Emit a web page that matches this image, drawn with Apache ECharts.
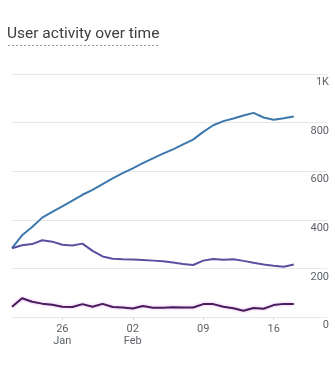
<!DOCTYPE html>
<html>
<head>
<meta charset="utf-8">
<script src="https://cdn.jsdelivr.net/npm/echarts@6/dist/echarts.min.js"></script>
<style>
  html, body { margin: 0; padding: 0; background: #fff; }
  #chart { width: 335px; height: 366px; }
</style>
</head>
<body>
<div id="chart"></div>
<script>
// daily points, 21 Jan .. 18 Feb
const days = [
  '21 Jan', '22 Jan', '23 Jan', '24 Jan', '25 Jan', '26 Jan', '27 Jan', '28 Jan', '29 Jan', '30 Jan', '31 Jan',
  '01 Feb', '02 Feb', '03 Feb', '04 Feb', '05 Feb', '06 Feb', '07 Feb', '08 Feb', '09 Feb', '10 Feb',
  '11 Feb', '12 Feb', '13 Feb', '14 Feb', '15 Feb', '16 Feb', '17 Feb', '18 Feb'
]
const users30d = [283, 336, 370, 409, 433, 455, 479, 503, 523, 547, 570, 592, 612, 633, 653,
  672, 690, 710, 730, 762, 789, 806, 817, 829, 840, 821, 812, 818, 825]
const users7d = [283, 295, 300, 316, 310, 297, 294, 302, 272, 249, 240, 238, 237, 235, 232,
  229, 224, 218, 214, 232, 239, 236, 238, 231, 223, 216, 211, 207, 216]
const users1d = [42, 77, 63, 55, 50, 42, 41, 53, 42, 54, 41, 39, 35, 45, 38,
  38, 40, 39, 39, 53, 53, 42, 36, 26, 37, 34, 49, 54, 54]

const tickIdx = [5, 12, 19, 26]
const tickLabels = ['26\nJan', '02\nFeb', '09', '16']
const yTicks = { 0: '0', 200: '200', 400: '400', 600: '600', 800: '800', 1000: '1K' }

const chart = echarts.init(document.getElementById('chart'))

const toPairs = (arr) => arr.map((v, i) => [i, v])

const lineSeries = (name, values, color, glow) => ({
  name: name,
  type: 'line',
  data: toPairs(values),
  showSymbol: false,
  smooth: false,
  lineStyle: {
    width: 2,
    color: color,
    shadowColor: glow || 'transparent',
    shadowBlur: glow ? 3 : 0
  },
  emphasis: { disabled: true }
})

chart.setOption({
  animation: false,
  title: {
    text: 'User activity over time',
    left: 7,
    top: 26,
    padding: 0,
    textStyle: {
      fontFamily: 'Roboto',
      fontSize: 15.5,
      fontWeight: 'normal',
      color: '#3c4043'
    }
  },
  graphic: [{
    type: 'line',
    shape: { x1: 8, y1: 45.5, x2: 160, y2: 45.5 },
    style: { stroke: '#9aa0a6', lineWidth: 1, lineDash: [2, 2] }
  }],
  grid: {
    left: 12,
    right: 8,
    top: 74,
    bottom: 49
  },
  xAxis: {
    type: 'value',
    min: 0,
    max: 31.3,
    axisLine: { show: false },
    splitLine: { show: false },
    axisTick: {
      show: true,
      customValues: tickIdx,
      length: 3,
      lineStyle: { color: '#dadce0' }
    },
    axisLabel: {
      customValues: tickIdx,
      formatter: (v) => tickLabels[tickIdx.indexOf(v)] || '',
      fontFamily: 'Roboto',
      fontSize: 11,
      lineHeight: 12,
      color: '#5f6368',
      margin: 6
    }
  },
  yAxis: {
    type: 'value',
    position: 'right',
    min: 0,
    max: 1000,
    interval: 200,
    axisLine: { show: false },
    axisTick: { show: false },
    splitLine: { lineStyle: { color: '#e6e7e9', width: 1 } },
    axisLabel: {
      formatter: (v) => yTicks[v],
      align: 'right',
      verticalAlign: 'top',
      padding: [3, 0, 0, 0],
      margin: 2,
      fontFamily: 'Roboto',
      fontSize: 11,
      color: '#5f6368'
    }
  },
  series: [
    lineSeries('30 days', users30d, '#3d78ad'),
    lineSeries('7 days', users7d, '#5a50a0'),
    lineSeries('1 day', users1d, '#4a1d5c', 'rgba(210,120,230,0.6)')
  ]
})
</script>
</body>
</html>
